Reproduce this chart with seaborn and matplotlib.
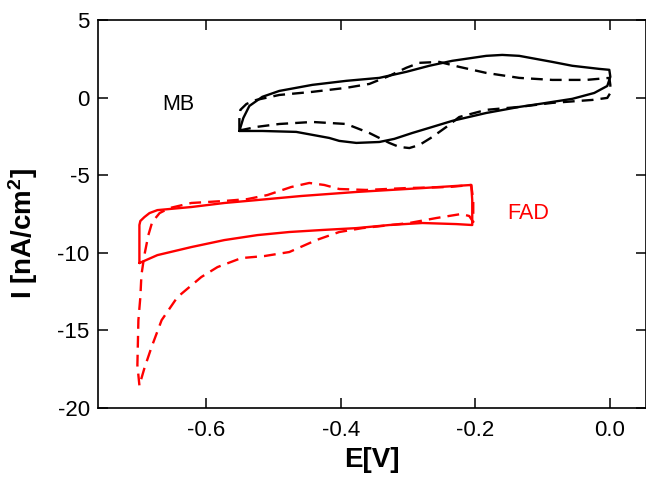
import matplotlib
matplotlib.use("Agg")
import matplotlib.pyplot as plt
import seaborn as sns
import pandas as pd

# Cyclic voltammograms: potential E [V] and current I [nA/cm^2]
mb_solid_E = [-0.5505, -0.5446, -0.5357, -0.5164, -0.4912, -0.4422, -0.3917, -0.3427,
              -0.3026, -0.2684, -0.2343, -0.1838, -0.1600, -0.1348, -0.0857, -0.0560,
              -0.0159, -0.0010, 0.0005, -0.0040, -0.0233, -0.0560, -0.1050, -0.1348,
              -0.1838, -0.2343, -0.2684, -0.2937, -0.3204, -0.3427, -0.3768, -0.4021,
              -0.4170, -0.4660, -0.5164, -0.5505]
mb_solid_I = [-2.15, -1.31, -0.54, 0.05, 0.43, 0.82, 1.08, 1.27,
              1.66, 2.05, 2.37, 2.69, 2.75, 2.69, 2.30, 2.05,
              1.85, 1.79, 1.34, 0.75, 0.30, -0.08, -0.41, -0.60,
              -0.99, -1.50, -1.95, -2.28, -2.66, -2.86, -2.92, -2.79,
              -2.60, -2.21, -2.15, -2.15]

mb_dash_E = [-0.5505, -0.5505, -0.5490, -0.5400, -0.5253, -0.4912, -0.4422, -0.3917,
             -0.3575, -0.3278, -0.3026, -0.2833, -0.2536, -0.2239, -0.1838, -0.1348,
             -0.0857, -0.0352, -0.0010, 0.0005, 0.0005, -0.0040, -0.0263, -0.0857,
             -0.1348, -0.1838, -0.2239, -0.2430, -0.2640, -0.2830, -0.2980, -0.3130,
             -0.3278, -0.3575, -0.3917, -0.4422, -0.4912, -0.5253, -0.5460, -0.5505]
mb_dash_I = [-2.08, -1.31, -0.79, -0.41, -0.15, 0.17, 0.37, 0.63,
             0.88, 1.40, 1.92, 2.24, 2.30, 1.98, 1.59, 1.27,
             1.14, 1.14, 1.27, 0.82, 0.30, -0.02, -0.15, -0.34,
             -0.60, -0.79, -1.25, -1.89, -2.54, -3.05, -3.25, -3.18,
             -2.92, -2.28, -1.70, -1.57, -1.70, -1.89, -2.08, -2.08]

fad_solid_E = [-0.6990, -0.6990, -0.6990, -0.6976, -0.6916, -0.6840, -0.6723, -0.6218,
               -0.5728, -0.5238, -0.4585, -0.3768, -0.2788, -0.2061, -0.2046, -0.2046,
               -0.2283, -0.2788, -0.3278, -0.3768, -0.4273, -0.4763, -0.5238, -0.5728,
               -0.6218, -0.6723, -0.6990]
fad_solid_I = [-10.66, -9.50, -8.21, -7.95, -7.70, -7.44, -7.25, -7.05,
               -6.79, -6.60, -6.34, -6.08, -5.83, -5.63, -6.60, -8.21,
               -8.15, -8.08, -8.21, -8.41, -8.53, -8.66, -8.86, -9.18,
               -9.63, -10.15, -10.66]

fad_dash_E = [-0.6990, -0.7020, -0.7005, -0.6976, -0.6960, -0.6916, -0.6857, -0.6800,
              -0.6690, -0.6545, -0.6218, -0.5728, -0.5387, -0.5090, -0.4734, -0.4466,
              -0.4244, -0.4021, -0.3620, -0.3026, -0.2387, -0.2061, -0.2031, -0.2031,
              -0.2090, -0.2209, -0.2580, -0.2981, -0.3679, -0.4021, -0.4362, -0.4763,
              -0.5134, -0.5476, -0.5830, -0.6070, -0.6426, -0.6660, -0.6810, -0.6916,
              -0.6990]
fad_dash_I = [-18.54, -17.24, -14.34, -12.86, -11.43, -10.15, -8.86, -8.02,
              -7.44, -7.12, -6.79, -6.66, -6.54, -6.28, -5.76, -5.50,
              -5.63, -5.89, -5.95, -5.83, -5.76, -5.63, -6.60, -8.02,
              -7.63, -7.50, -7.76, -8.08, -8.41, -8.66, -9.18, -9.95,
              -10.21, -10.34, -10.92, -11.56, -12.86, -14.34, -16.08, -17.44,
              -18.54]

x_ticks = [-0.6, -0.4, -0.2, 0.0]
y_ticks = [-20, -15, -10, -5, 0, 5]

sns.set_style("ticks")
plt.rcParams["font.family"] = ["Liberation Sans", "DejaVu Sans"]
plt.rcParams["mathtext.fontset"] = "custom"
plt.rcParams["mathtext.bf"] = "Liberation Sans:bold"
plt.rcParams["mathtext.rm"] = "Liberation Sans"

fig = plt.figure(figsize=(6.46, 4.78), dpi=100)
ax = fig.add_axes([98 / 646, 1 - 408 / 478, 548 / 646, 388 / 478])

curves = [
    (mb_solid_E, mb_solid_I, "black", "-"),
    (mb_dash_E, mb_dash_I, "black", "--"),
    (fad_solid_E, fad_solid_I, "red", "-"),
    (fad_dash_E, fad_dash_I, "red", "--"),
]
for E, I, color, ls in curves:
    df = pd.DataFrame({"E": E, "I": I})
    line_kws = dict(linewidth=1.7, color=color, sort=False, estimator=None, ax=ax)
    if ls == "--":
        sns.lineplot(data=df, x="E", y="I", linestyle=(0, (5, 3)), **line_kws)
    else:
        sns.lineplot(data=df, x="E", y="I", **line_kws)

ax.set_xlim(-0.7605, 0.0535)
ax.set_ylim(-20, 5)
ax.set_xticks(x_ticks)
ax.set_xticklabels([f"{v:.1f}" for v in x_ticks])
ax.set_yticks(y_ticks)
ax.set_yticklabels([str(v) for v in y_ticks])

ax.tick_params(direction="in", length=7, width=1.1, labelsize=16,
               top=True, right=True, pad=6, color="black", labelcolor="black")
ax.tick_params(axis="x", pad=9)
for s in ax.spines.values():
    s.set_linewidth(1.2)
    s.set_color("black")

ax.text(-0.641, -0.47, "MB", fontsize=15.5, color="black", ha="center", va="center")
ax.text(-0.1214, -7.47, "FAD", fontsize=15.5, color="red", ha="center", va="center")

ax.set_xlabel("E[V]", fontsize=20, fontweight="bold", color="black")
ax.set_ylabel(r"I [nA/cm$\mathbf{^2}$]", fontsize=20, fontweight="bold", color="black")
ax.xaxis.set_label_coords(0.5, -0.10)
ax.yaxis.set_label_coords(-0.105, 0.45)

fig.savefig("out.png", dpi=100)
